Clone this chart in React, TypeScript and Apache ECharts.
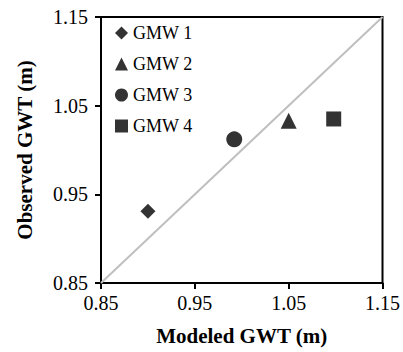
import React, { useEffect, useRef } from "react";
import * as echarts from "echarts";

const seriesNames = ["GMW 1", "GMW 2", "GMW 3", "GMW 4"];
const symbols = ["diamond", "triangle", "circle", "rect"];
const modeled = [0.9, 1.05, 0.992, 1.098];
const observed = [0.931, 1.033, 1.012, 1.035];
const lineX = [0.85, 1.15];
const lineY = [0.85, 1.15];
const axisMin = 0.85;
const axisMax = 1.15;
const axisStep = 0.1;

const FONT = "Liberation Serif";

export default function App() {
  const ref = useRef<HTMLDivElement>(null);
  useEffect(() => {
    if (!ref.current) return;
    const chart = echarts.init(ref.current, undefined, { renderer: "svg" });
    const sizes = [15, 16, 16, 15];
    const scatter = seriesNames.map((name, i) => ({
      name,
      type: "scatter",
      symbol: symbols[i],
      symbolSize: sizes[i],
      itemStyle: { color: "#000" },
      data: [[modeled[i], observed[i]]],
      z: 3,
    }));
    const axisCommon = {
      type: "value",
      min: axisMin,
      max: axisMax,
      interval: axisStep,
      splitLine: { show: false },
      axisLine: { show: true, lineStyle: { color: "#000", width: 2 } },
      axisTick: { show: true, inside: false, length: 6, lineStyle: { color: "#000", width: 2 } },
      nameLocation: "middle",
      nameTextStyle: { fontFamily: FONT, fontWeight: "bold", fontSize: 21, color: "#000" },
    };
    chart.setOption({
      animation: false,
      backgroundColor: "#fff",
      textStyle: { fontFamily: FONT },
      grid: {
        left: 101,
        top: 17,
        width: 283,
        height: 266,
        show: true,
        borderColor: "#000",
        borderWidth: 2,
        containLabel: false,
      },
      legend: {
        data: seriesNames.map((n, i) => ({ name: n, icon: symbols[i] })),
        orient: "vertical",
        left: 110,
        top: 19,
        itemWidth: 13,
        itemHeight: 13,
        itemGap: 13,
        textStyle: { fontFamily: FONT, fontSize: 18, color: "#000" },
        selectedMode: false,
      },
      xAxis: {
        ...axisCommon,
        name: "Modeled GWT (m)",
        nameGap: 42,
        axisLabel: {
          fontFamily: FONT,
          fontSize: 20,
          color: "#000",
          margin: 10,
          formatter: (v: number) => v.toFixed(2),
        },
      },
      yAxis: {
        ...axisCommon,
        name: "Observed GWT (m)",
        nameGap: 66,
        axisLabel: {
          fontFamily: FONT,
          fontSize: 20,
          color: "#000",
          margin: 13,
          formatter: (v: number) => v.toFixed(2),
        },
      },
      series: [
        {
          type: "line",
          data: lineX.map((x, i) => [x, lineY[i]]),
          symbol: "none",
          silent: true,
          lineStyle: { color: "#bfbfbf", width: 2 },
          z: 2,
        },
        ...scatter,
      ],
    });
    return () => chart.dispose();
  }, []);
  return <div ref={ref} style={{ width: 403, height: 352, position: "absolute", left: 0, top: 0 }} />;
}
